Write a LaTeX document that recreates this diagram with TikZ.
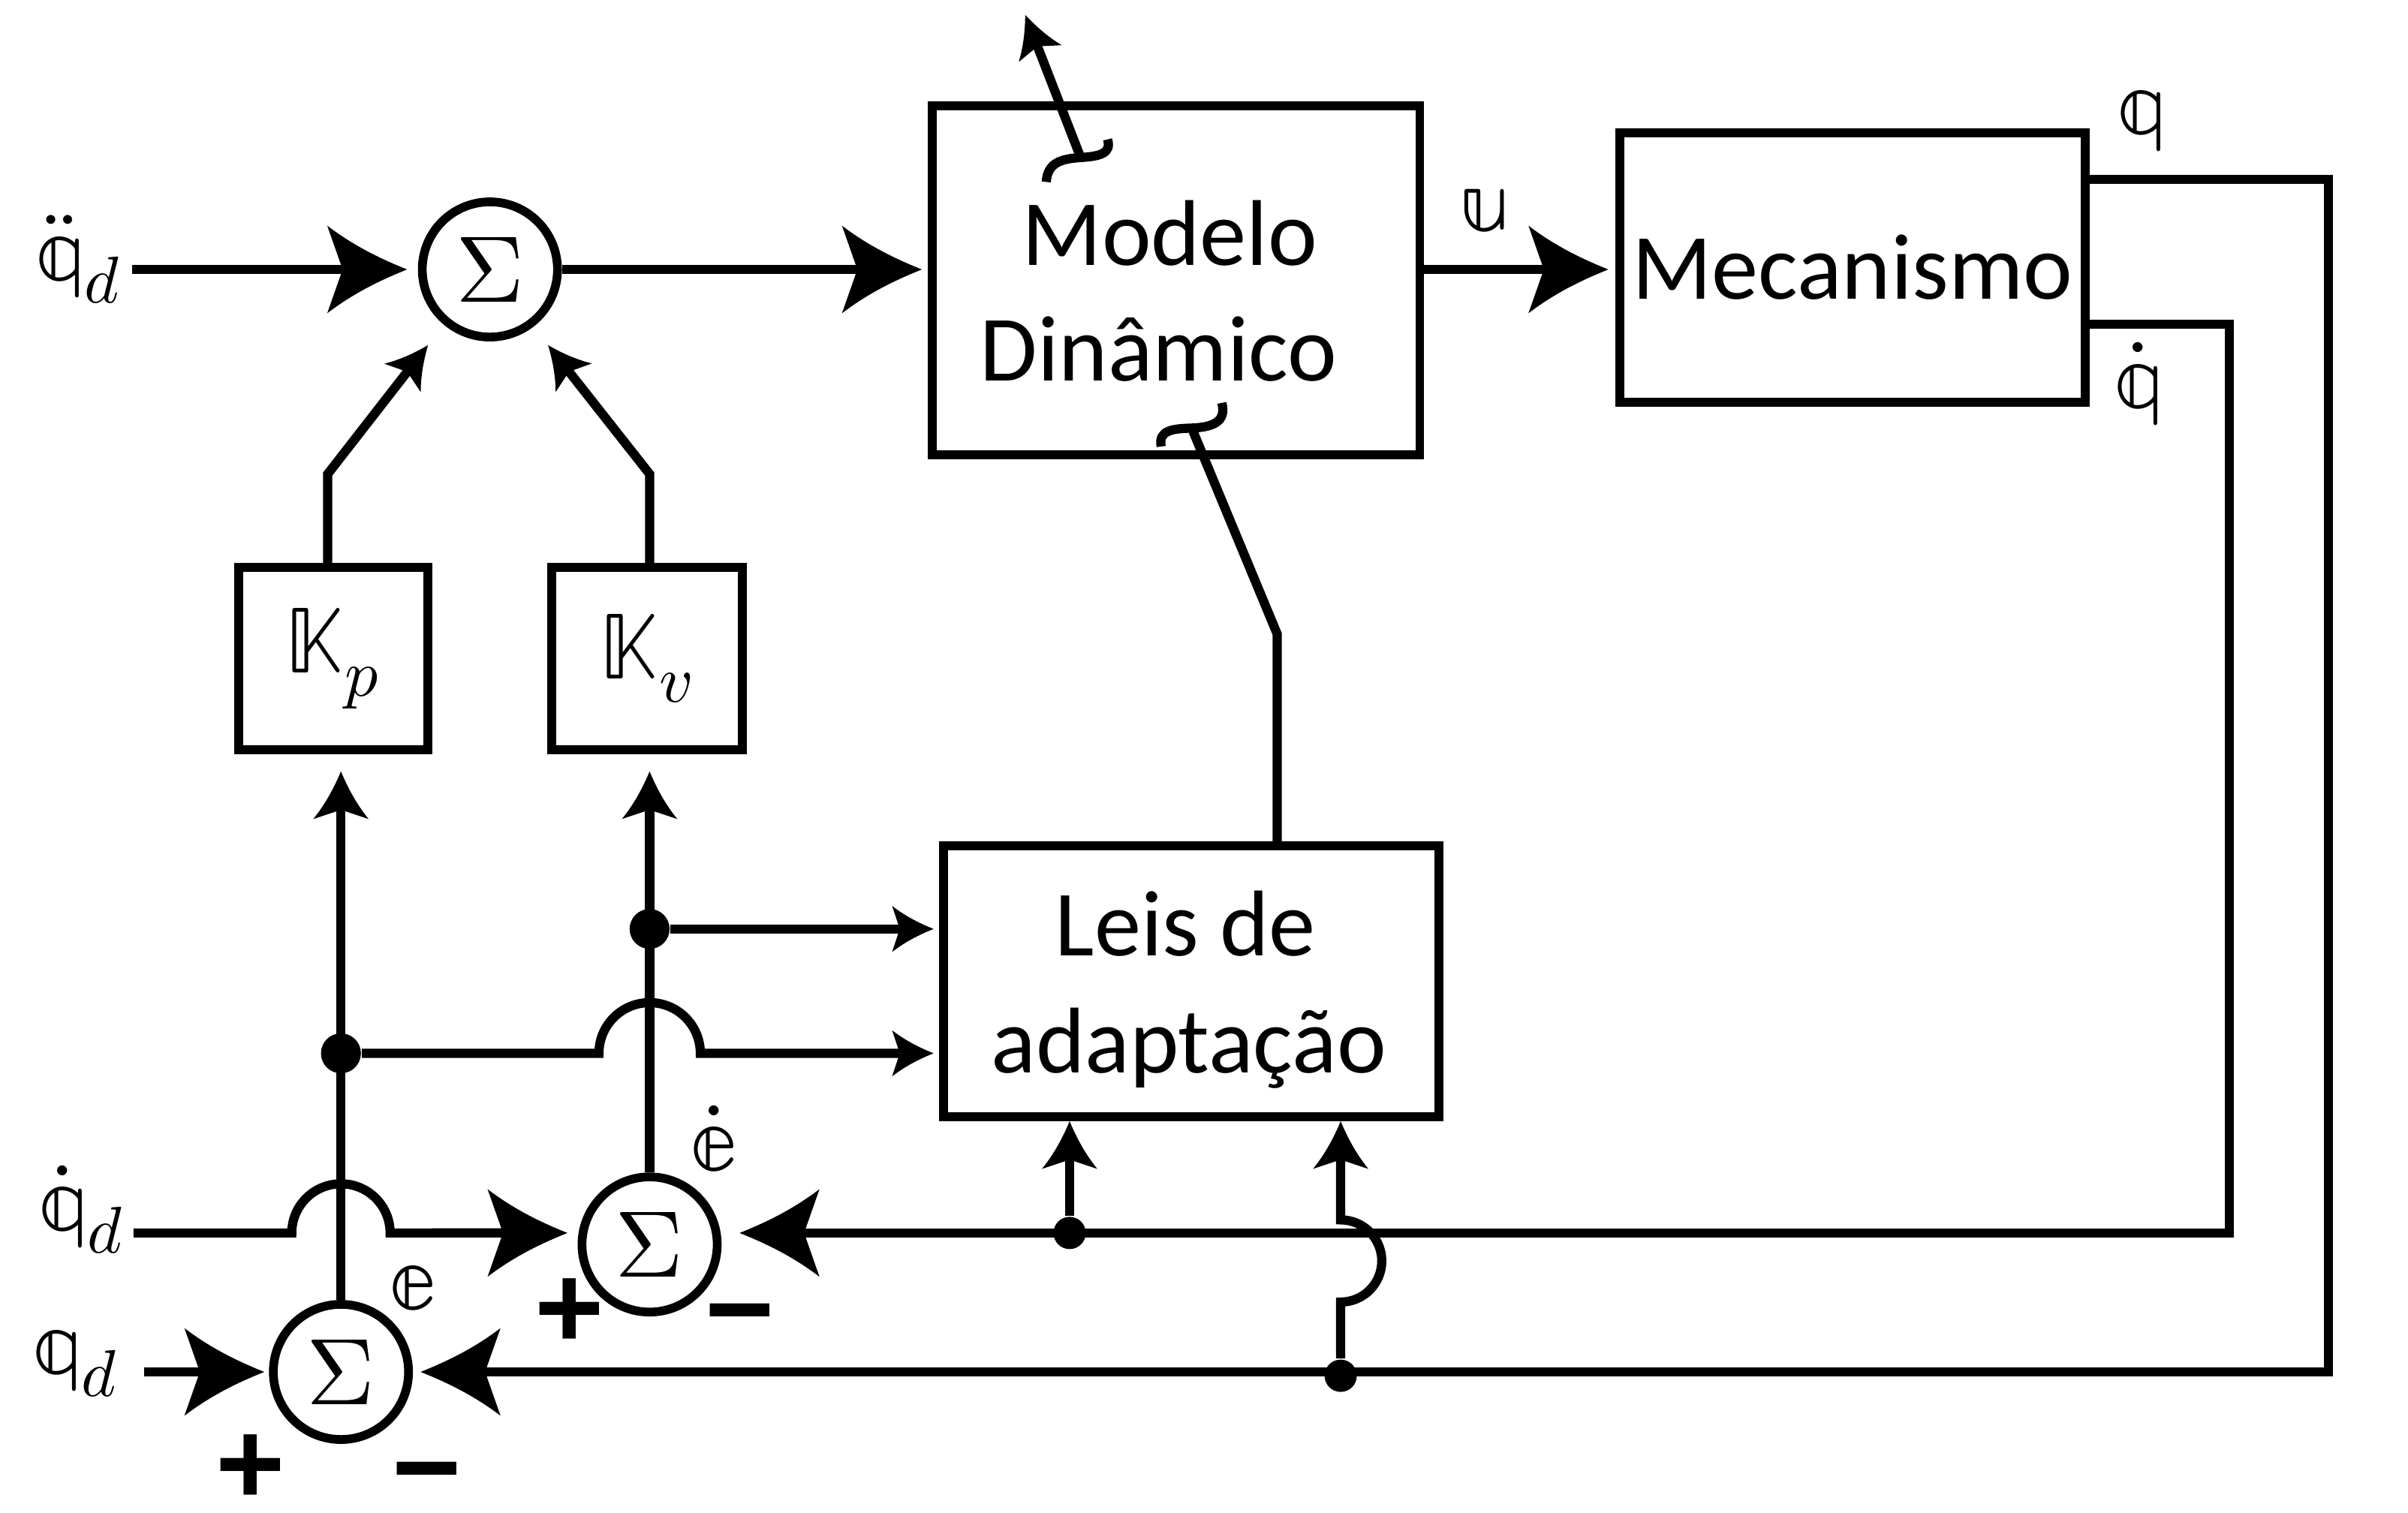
\documentclass[tikz,border=0pt]{standalone}
\usepackage{fontspec}
\usepackage{unicode-math}
\setmainfont{Carlito}
\setmathfont{Latin Modern Math}
\newfontfamily\pmfont{Liberation Sans}
\usetikzlibrary{arrows.meta,calc}

\pgfdeclarearrow{
  name = CStealth,
  parameters = {\the\pgfarrowlength,\the\pgfarrowwidth,\the\pgfarrowinset},
  setup code = {
    \pgfarrowssettipend{0pt}
    \pgfarrowssetbackend{-\pgfarrowlength}
    \pgfarrowssetlineend{-\pgfarrowinset}
    \pgfarrowssavethe\pgfarrowlength
    \pgfarrowssavethe\pgfarrowwidth
    \pgfarrowssavethe\pgfarrowinset
  },
  drawing code = {
    \pgfpathmoveto{\pgfqpoint{0pt}{0pt}}
    \pgfpathcurveto{\pgfqpoint{-0.33\pgfarrowlength}{0.12\pgfarrowwidth}}{\pgfqpoint{-0.67\pgfarrowlength}{0.27\pgfarrowwidth}}{\pgfqpoint{-\pgfarrowlength}{0.5\pgfarrowwidth}}
    \pgfpathlineto{\pgfqpoint{-\pgfarrowinset}{0pt}}
    \pgfpathlineto{\pgfqpoint{-\pgfarrowlength}{-0.5\pgfarrowwidth}}
    \pgfpathcurveto{\pgfqpoint{-0.67\pgfarrowlength}{-0.27\pgfarrowwidth}}{\pgfqpoint{-0.33\pgfarrowlength}{-0.12\pgfarrowwidth}}{\pgfqpoint{0pt}{0pt}}
    \pgfpathclose
    \pgfusepathqfill
  },
  defaults = {length = 10pt, width = 10pt, inset = 8pt}
}

\tikzset{
  blk/.style={draw, rectangle, line width=1.65pt, inner sep=0pt},
  sumc/.style={draw, circle, line width=1.62pt, minimum size=0.88cm, inner sep=0pt, font=\fontsize{17.5}{20}\selectfont},
  ln/.style={line width=1.7pt},
  big/.style={-{CStealth[length=0.52cm,width=0.57cm,inset=0.42cm]}},
  med/.style={-{CStealth[length=0.27cm,width=0.30cm,inset=0.22cm]}},
  upa/.style={-{CStealth[length=0.31cm,width=0.36cm,inset=0.25cm]}},
  jdot/.style={circle, fill, inner sep=0pt, minimum size=0.26cm},
  sdot/.style={circle, fill, inner sep=0pt, minimum size=0.21cm},
  lab/.style={inner sep=0pt, font=\fontsize{17.5}{20}\selectfont},
  txt/.style={inner sep=0pt, font=\fontsize{17.3}{21.5}\selectfont},
  pm/.style={inner sep=0pt, font=\pmfont\bfseries\fontsize{22}{24}\selectfont},
}

\begin{document}
\begin{tikzpicture}[x={(0.01cm,0)}, y={(0,-0.01cm)}]
\useasboundingbox (0,0) rectangle (1568,985);

% sums
\node[sumc] (S1) at (319,175.5) {$\Sigma$};
\node[sumc] (S2) at (423,810.5) {$\Sigma$};
\node[sumc] (S3) at (222,893.5) {$\Sigma$};

% blocks
\node[blk, minimum width=3.171cm, minimum height=2.271cm] (modelo) at (765.85,182.45) {};
\node[txt, anchor=base] (modelo1) at (761.7,172.6) {Modelo};
\node[txt, anchor=base] (modelo2) at (754.4,248.2) {Dinâmico};

\node[blk, txt, draw, line width=1.65pt, minimum width=3.031cm, minimum height=1.755cm] (mec) at (1206.25,174.25) {Mecanismo};

\node[blk, minimum width=3.223cm, minimum height=1.763cm] (leis) at (775.65,639.15) {};
\node[txt, anchor=base] (leis1) at (772,622.4) {Leis de};
\node[txt, anchor=base] (leis2) at (774,698.5) {adaptação};

\node[blk, lab, draw, line width=1.65pt, minimum width=1.234cm, minimum height=1.189cm] (kp) at (217,429) {$\mathbb{K}_p$};
\node[blk, lab, draw, line width=1.65pt, minimum width=1.237cm, minimum height=1.189cm] (kv) at (421.35,429) {$\mathbb{K}_v$};

% labels
\node[lab, anchor=base east] (lqdd) at (81,182) {$\ddot{\mathbb{q}}_d$};
\node[lab, anchor=base east] (lqdot) at (83,801) {$\dot{\mathbb{q}}_d$};
\node[lab, anchor=base east] (lqd) at (79,894) {$\mathbb{q}_d$};
\node[lab, anchor=base] (lq) at (1395,87) {$\mathbb{q}$};
\node[lab, anchor=base] (lqdo) at (1393,265) {$\dot{\mathbb{q}}$};
\node[lab, anchor=base] (lu) at (966.5,150) {$\mathbb{u}$};
\node[lab, anchor=base] (le) at (269,852) {$\mathbb{e}$};
\node[lab, anchor=base] (led) at (465,762) {$\dot{\mathbb{e}}$};

\node[pm, anchor=base] (p3) at (163,980) {+};
\node[pm, anchor=base] (m3) at (278,982) {−};
\node[pm, anchor=base] (p2) at (371,878) {+};
\node[pm, anchor=base] (m2) at (482,879) {−};

% junction dots
\node[jdot] (j1) at (222,686) {};
\node[jdot] (j2) at (423,605) {};
\node[sdot] (j3) at (696.5,803) {};
\node[sdot] (j4) at (873,896) {};

% coordinates
\coordinate (in1) at (86,175.5);
\coordinate (in2) at (87,803);
\coordinate (in3) at (94,893.5);
\coordinate (y175) at (0,175.5);
\coordinate (qr) at (1516,117);
\coordinate (qdr) at (1451.6,211);
\coordinate (s2r) at ([yshift=0.075cm]S2.east);
\coordinate (s2l) at ([yshift=0.075cm]S2.west);
\coordinate (kpb) at (213.4,308.7);
\coordinate (kpt) at (278.7,224.8);
\coordinate (kvb) at (423,308.7);
\coordinate (kvt) at (356.9,224.8);
\coordinate (lb1) at (831.7,413);
\coordinate (lb2) at (776,278.8);
\coordinate (ta1) at (703.7,102.6);
\coordinate (ta2) at (667.6,9.7);

% forward path
\draw[ln,big,shorten >=0.07cm] (in1) -- (S1.west);
\draw[ln,big,shorten >=0.04cm] (S1.east) -- (S1.east -| modelo.west);
\draw[ln,big,shorten >=0.044cm] (modelo.east |- y175) -- (mec.west |- y175);

% feedbacks
\draw[ln,big,shorten >=0.05cm] (mec.east |- qr) -- (qr) -- (qr |- S3.east) -- (S3.east);
\draw[ln,big,shorten >=0.117cm] (mec.east |- qdr) -- (qdr) -- (qdr |- s2r) -- (s2r);

% inputs
\draw[ln,big,shorten >=0.03cm] (in3) -- (S3.west);
\draw[ln,big,shorten >=0.066cm] (in2) -- ($(S3.center |- in2)+(-32,0)$) arc[start angle=180,end angle=0,radius=0.32cm] -- (s2l);

% errors to gains
\draw[ln,upa,shorten >=0.11cm] (S3.north) -- (S3.north |- kp.south);
\draw[ln,upa,shorten >=0.11cm] (S2.north) -- (S2.north |- kv.south);

% gains to top sum
\draw[ln,med] (kpb |- kp.north) -- (kpb) -- (kpt);
\draw[ln,med] (kvb |- kv.north) -- (kvb) -- (kvt);

% to adaptation laws
\draw[ln,med,shorten >=0.036cm] (j1) -- ($(S2.center |- j1)+(-33,0)$) arc[start angle=180,end angle=0,radius=0.33cm] -- (leis.west |- j1);
\draw[ln,med,shorten >=0.036cm] (j2) -- (leis.west |- j2);
\draw[ln,upa] (j3) -- (j3 |- leis.south);
\draw[ln,upa] (j4) -- ($(j4)+(0,-48)$) arc[start angle=-90,end angle=90,radius=0.2675cm] -- (j4 |- leis.south);

% adaptation to model
\draw[ln] (lb1 |- leis.north) -- (lb1) -- (lb2);
\draw[ln] (756.1,290.8) .. controls (754,280) and (764,279.2) .. (lb2) .. controls (789,278.3) and (799,275) .. (795.6,262.4);

% output arrow of model
\draw[ln,med] (ta1) -- (ta2);
\draw[ln] (681.3,118.5) .. controls (682,106) and (691,103.4) .. (ta1) .. controls (716,101.8) and (724,100) .. (721.2,90.8);
\end{tikzpicture}
\end{document}
